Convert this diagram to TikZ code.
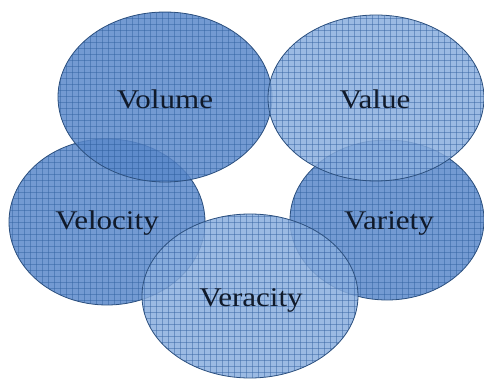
\documentclass[tikz,border=0pt]{standalone}
\usepackage{fontspec}
\usepackage{graphicx}
\setmainfont{Liberation Serif}
\definecolor{darkfill}{HTML}{5A88CA}
\definecolor{lightfill}{HTML}{8AAEDE}
\definecolor{gridcol}{HTML}{2F5E9E}
\definecolor{edgecol}{HTML}{2B4F7E}
\definecolor{textcol}{HTML}{101A2A}
\tikzset{
  vfill/.style={fill=#1, fill opacity=0.85},
  vedge/.style={draw=edgecol, line width=0.8pt},
  gridline/.style={gridcol, line width=0.35pt, opacity=0.45},
  lab/.style={font=\fontsize{27}{30}\selectfont, text=textcol},
}
\newcommand{\vellipse}[5]{%
  \fill[vfill=#5] (#1,#2) ellipse [x radius=#3, y radius=#4];
  \begin{scope}
    \clip (#1,#2) ellipse [x radius=#3, y radius=#4];
    \foreach \gx in {0,6,...,486} {\draw[gridline] (\gx,0) -- (\gx,379);}
    \foreach \gy in {0,6,...,378} {\draw[gridline] (0,\gy) -- (484,\gy);}
  \end{scope}
  \draw[vedge] (#1,#2) ellipse [x radius=#3, y radius=#4];
}
\begin{document}
\begin{tikzpicture}[x=1pt,y=-1pt]
\useasboundingbox (0,0) rectangle (484,379);
\vellipse{107}{222}{98}{83}{darkfill}
\vellipse{387}{220}{97}{80}{darkfill}
\vellipse{165}{97}{107}{85}{darkfill}
\vellipse{376}{98}{108}{83}{lightfill}
\vellipse{250}{296}{108}{82}{lightfill}
\node[lab] (volume) at (165,99) {\scalebox{1.15}[1]{Volume}};
\node[lab] (value) at (375,99) {\scalebox{1.15}[1]{Value}};
\node[lab] (velocity) at (107,223) {\scalebox{1.15}[1]{Velocity}};
\node[lab] (variety) at (389,223) {\scalebox{1.15}[1]{Variety}};
\node[lab] (veracity) at (251,300) {\scalebox{1.15}[1]{Veracity}};
\end{tikzpicture}
\end{document}
